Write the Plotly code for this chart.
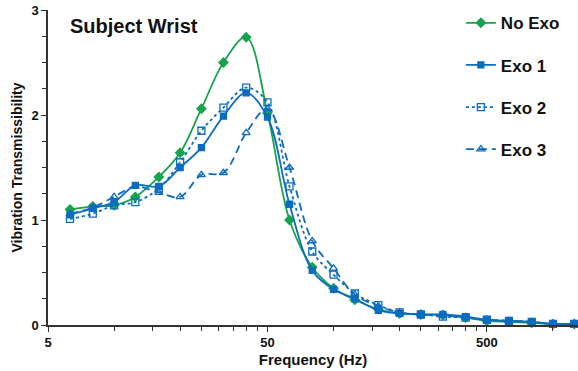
import math
import plotly.graph_objects as go

# One-third-octave band centre frequencies (Hz)
freq = [6.3, 8, 10, 12.5, 16, 20, 25, 31.5, 40, 50, 63, 80, 100, 125, 160,
        200, 250, 315, 400, 500, 630, 800, 1000, 1250]

# Wrist vibration transmissibility per condition
no_exo = [1.10, 1.13, 1.14, 1.22, 1.41, 1.64, 2.06, 2.50, 2.74, 2.02, 1.00, 0.55,
          0.35, 0.24, 0.15, 0.11, 0.10, 0.095, 0.07, 0.04, 0.03, 0.02, 0.01, 0.01]
exo1 = [1.05, 1.11, 1.17, 1.33, 1.32, 1.50, 1.69, 1.99, 2.21, 1.98, 1.15, 0.52,
        0.34, 0.25, 0.14, 0.11, 0.10, 0.10, 0.08, 0.05, 0.04, 0.03, 0.01, 0.01]
exo2 = [1.01, 1.06, 1.14, 1.17, 1.30, 1.55, 1.85, 2.07, 2.26, 2.12, 1.32, 0.70,
        0.48, 0.30, 0.19, 0.12, 0.10, 0.08, 0.07, 0.05, 0.04, 0.03, 0.01, 0.01]
exo3 = [1.06, 1.12, 1.22, 1.32, 1.26, 1.22, 1.43, 1.45, 1.83, 2.06, 1.50, 0.80,
        0.54, 0.29, 0.18, 0.12, 0.10, 0.09, 0.07, 0.05, 0.04, 0.03, 0.01, 0.01]

major_x = [5, 50, 500]
minor_x = [k * d for d in (5, 50, 500) for k in range(2, 10)]

GREEN = "#16A34C"
BLUE = "#0B6CC0"
FONT = "Liberation Sans"

series = [
    ("No Exo", no_exo, GREEN, "solid", "diamond", 7),
    ("Exo 1", exo1, BLUE, "solid", "square", 6),
    ("Exo 2", exo2, BLUE, "dot", "square-open", 7),
    ("Exo 3", exo3, BLUE, "8px,5px", "triangle-up-open", 7),
]

fig = go.Figure()
for name, vals, color, dash, symbol, size in series:
    fig.add_trace(go.Scatter(
        x=freq, y=vals, name=f"<b>{name}</b>", legendgroup=name, mode="lines+markers",
        line=dict(color=color, width=1.8, dash=dash, shape="spline", smoothing=1.0),
        marker=dict(symbol=symbol, size=size, color=color,
                    line=dict(color=color, width=1.3)),
        cliponaxis=False,
    ))

fig.add_annotation(
    x=0.037, y=0.99, xref="paper", yref="paper", xanchor="left", yanchor="top",
    text="<b>Subject Wrist</b>", showarrow=False,
    font=dict(family=FONT, size=20, color="#111111"),
)

fig.update_layout(
    width=578, height=371,
    margin=dict(l=48, r=0, t=10, b=46),
    paper_bgcolor="white", plot_bgcolor="white",
    font=dict(family=FONT, color="#111111"),
    showlegend=True,
    legend=dict(
        x=0.779, y=1.015, xanchor="left", yanchor="top",
        font=dict(family=FONT, size=17, color="#111111"),
        tracegroupgap=17, bgcolor="rgba(0,0,0,0)",
        itemwidth=30,
    ),
    xaxis=dict(
        type="log", range=[math.log10(5), math.log10(1300)],
        tickmode="array", tickvals=major_x, ticktext=[f"<b>{v}</b>" for v in major_x],
        ticks="outside", ticklen=5, tickcolor="#333333",
        showline=True, linecolor="#333333", linewidth=1.5,
        showgrid=False, zeroline=False,
        tickfont=dict(family=FONT, size=13, color="#111111"),
        minor=dict(tickmode="array", tickvals=minor_x, ticks="outside",
                   ticklen=4, tickcolor="#333333", showgrid=False),
        title=dict(text="<b>Frequency (Hz)</b>", standoff=5,
                   font=dict(family=FONT, size=15, color="#111111")),
    ),
    yaxis=dict(
        range=[0, 3], tickvals=[0, 1, 2, 3], ticktext=["<b>0</b>", "<b>1</b>", "<b>2</b>", "<b>3</b>"],
        ticks="outside", ticklen=5, tickcolor="#333333",
        showline=True, linecolor="#333333", linewidth=1.5,
        showgrid=False, zeroline=False,
        tickfont=dict(family=FONT, size=13, color="#111111"),
        minor=dict(dtick=0.25, ticks="outside", ticklen=4, tickcolor="#333333", showgrid=False),
        title=dict(text="<b>Vibration Transmissibility</b>", standoff=6,
                   font=dict(family=FONT, size=14, color="#111111")),
    ),
)

fig.write_html("out.html")
